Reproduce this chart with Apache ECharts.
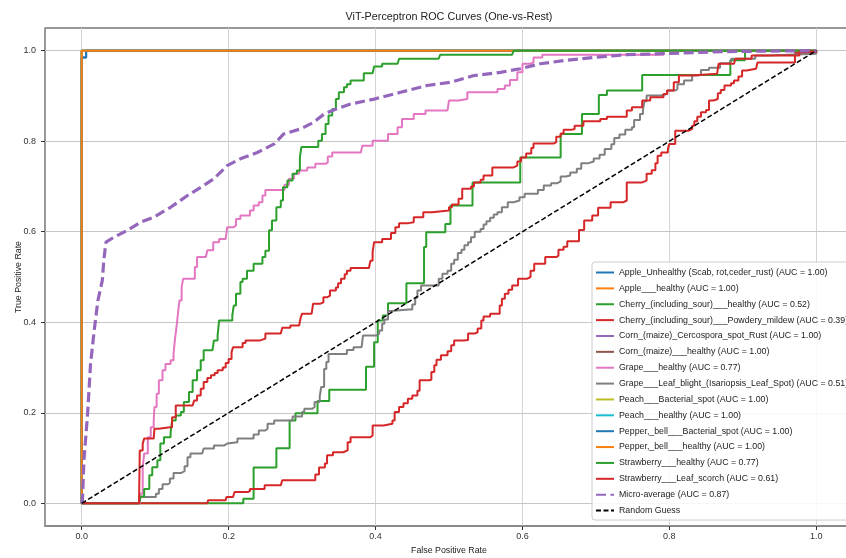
<!DOCTYPE html>
<html>
<head>
<meta charset="utf-8">
<script src="https://cdn.jsdelivr.net/npm/echarts@6/dist/echarts.min.js"></script>
<style>html,body{margin:0;padding:0;background:#fff}#c{width:846px;height:558px}</style>
</head>
<body>
<div id="c"></div>
<script>
const TITLE = 'ViT-Perceptron ROC Curves (One-vs-Rest)';
const X_TICKS = [0, 0.2, 0.4, 0.6, 0.8, 1.0];
const Y_TICKS = [0, 0.2, 0.4, 0.6, 0.8, 1.0];

const NAMES = [
  'Apple_Unhealthy (Scab, rot,ceder_rust) (AUC = 1.00)',
  'Apple___healthy (AUC = 1.00)',
  'Cherry_(including_sour)___healthy (AUC = 0.52)',
  'Cherry_(including_sour)___Powdery_mildew (AUC = 0.39)',
  'Corn_(maize)_Cercospora_spot_Rust (AUC = 1.00)',
  'Corn_(maize)___healthy (AUC = 1.00)',
  'Grape___healthy (AUC = 0.77)',
  'Grape___Leaf_blight_(Isariopsis_Leaf_Spot) (AUC = 0.51)',
  'Peach___Bacterial_spot (AUC = 1.00)',
  'Peach___healthy (AUC = 1.00)',
  'Pepper,_bell___Bacterial_spot (AUC = 1.00)',
  'Pepper,_bell___healthy (AUC = 1.00)',
  'Strawberry___healthy (AUC = 0.77)',
  'Strawberry___Leaf_scorch (AUC = 0.61)',
  'Micro-average (AUC = 0.87)',
  'Random Guess'
];
const COLORS = ['#1f77b4','#ff7f0e','#2ca02c','#d62728','#9467bd','#8c564b','#e377c2','#7f7f7f','#bcbd22','#17becf','#1f77b4','#ff7f0e','#2ca02c','#d62728','#9467bd','#000000'];

// [FPR, TPR] pairs
const appleUnhealthy = [[0,0],[0,0.985],[0.006,0.985],[0.006,1],[1,1]];
const appleHealthy = [[0,0],[0,1],[1,1]];
const cherryHealthy = [[0,0],[0.220,0],[0.220,0.010],[0.234,0.010],[0.234,0.079],[0.265,0.079],[0.265,0.122],[0.283,0.122],[0.283,0.183],[0.291,0.183],[0.291,0.199],[0.321,0.199],[0.321,0.226],[0.337,0.226],[0.337,0.251],[0.387,0.251],[0.387,0.302],[0.398,0.302],[0.398,0.356],[0.403,0.356],[0.403,0.404],[0.410,0.415],[0.417,0.415],[0.417,0.442],[0.442,0.442],[0.442,0.486],[0.466,0.486],[0.466,0.566],[0.469,0.566],[0.469,0.599],[0.495,0.599],[0.495,0.617],[0.502,0.617],[0.502,0.658],[0.532,0.658],[0.532,0.709],[0.597,0.709],[0.597,0.764],[0.652,0.764],[0.652,0.816],[0.681,0.816],[0.681,0.860],[0.704,0.860],[0.704,0.902],[0.715,0.902],[0.715,0.912],[0.763,0.912],[0.763,0.946],[0.883,0.946],[0.883,0.979],[0.903,0.979],[0.903,1],[1,1]];
const cherryMildew = [[0,0],[0.171,0],[0.172,0.007],[0.196,0.007],[0.197,0.014],[0.206,0.018],[0.208,0.025],[0.226,0.027],[0.229,0.032],[0.246,0.032],[0.249,0.040],[0.271,0.042],[0.273,0.051],[0.309,0.051],[0.318,0.064],[0.323,0.079],[0.331,0.088],[0.334,0.106],[0.342,0.113],[0.356,0.117],[0.362,0.135],[0.366,0.146],[0.393,0.150],[0.396,0.172],[0.411,0.176],[0.423,0.183],[0.426,0.202],[0.432,0.213],[0.438,0.221],[0.444,0.231],[0.450,0.238],[0.457,0.249],[0.460,0.272],[0.473,0.273],[0.476,0.290],[0.480,0.305],[0.483,0.317],[0.489,0.327],[0.498,0.336],[0.503,0.349],[0.507,0.360],[0.520,0.361],[0.526,0.375],[0.535,0.378],[0.539,0.386],[0.544,0.404],[0.547,0.413],[0.556,0.419],[0.565,0.419],[0.569,0.437],[0.572,0.452],[0.576,0.463],[0.581,0.472],[0.586,0.481],[0.590,0.481],[0.594,0.496],[0.606,0.500],[0.611,0.514],[0.616,0.529],[0.631,0.544],[0.646,0.547],[0.649,0.560],[0.656,0.567],[0.661,0.579],[0.672,0.579],[0.677,0.604],[0.684,0.625],[0.695,0.636],[0.703,0.653],[0.720,0.665],[0.737,0.669],[0.742,0.709],[0.763,0.713],[0.769,0.728],[0.776,0.736],[0.781,0.751],[0.784,0.768],[0.789,0.775],[0.798,0.783],[0.800,0.794],[0.808,0.823],[0.826,0.827],[0.831,0.834],[0.834,0.844],[0.838,0.854],[0.843,0.864],[0.850,0.869],[0.854,0.890],[0.860,0.893],[0.866,0.906],[0.870,0.913],[0.875,0.923],[0.884,0.928],[0.888,0.934],[0.894,0.943],[0.899,0.956],[0.905,0.960],[0.918,0.960],[0.920,0.974],[0.971,0.974],[0.971,0.995],[1,1]];
const cornCercospora = [[0,0],[0,1],[1,1]];
const cornHealthy = [[0,0],[0,1],[1,1]];
const grapeHealthy = [[0,0],[0.079,0],[0.079,0.021],[0.083,0.080],[0.085,0.110],[0.090,0.146],[0.094,0.168],[0.098,0.183],[0.099,0.213],[0.102,0.242],[0.105,0.272],[0.110,0.294],[0.114,0.308],[0.121,0.316],[0.125,0.330],[0.127,0.364],[0.129,0.389],[0.131,0.419],[0.133,0.448],[0.136,0.477],[0.138,0.496],[0.151,0.496],[0.154,0.522],[0.157,0.544],[0.169,0.544],[0.171,0.559],[0.179,0.577],[0.187,0.584],[0.196,0.584],[0.198,0.610],[0.207,0.614],[0.210,0.628],[0.216,0.636],[0.225,0.636],[0.229,0.647],[0.234,0.658],[0.241,0.665],[0.246,0.680],[0.250,0.692],[0.273,0.692],[0.276,0.704],[0.282,0.717],[0.289,0.728],[0.296,0.735],[0.307,0.742],[0.318,0.750],[0.332,0.753],[0.335,0.766],[0.341,0.775],[0.380,0.775],[0.382,0.790],[0.396,0.801],[0.414,0.801],[0.417,0.816],[0.430,0.831],[0.436,0.849],[0.452,0.860],[0.468,0.868],[0.498,0.868],[0.500,0.890],[0.513,0.893],[0.525,0.908],[0.563,0.908],[0.566,0.915],[0.576,0.923],[0.583,0.935],[0.593,0.952],[0.600,0.971],[0.611,0.974],[0.615,0.985],[0.627,0.991],[0.792,0.991],[0.792,1],[1,1]];
const grapeBlight = [[0,0],[0.078,0],[0.080,0.014],[0.098,0.014],[0.101,0.021],[0.105,0.032],[0.110,0.042],[0.117,0.045],[0.120,0.055],[0.125,0.067],[0.135,0.071],[0.140,0.082],[0.144,0.102],[0.148,0.110],[0.164,0.110],[0.166,0.121],[0.180,0.128],[0.194,0.132],[0.198,0.135],[0.212,0.143],[0.234,0.152],[0.241,0.161],[0.250,0.165],[0.253,0.176],[0.262,0.183],[0.283,0.183],[0.287,0.192],[0.300,0.202],[0.303,0.209],[0.314,0.213],[0.317,0.224],[0.324,0.236],[0.326,0.257],[0.330,0.297],[0.333,0.312],[0.336,0.330],[0.352,0.330],[0.361,0.339],[0.370,0.345],[0.381,0.349],[0.383,0.371],[0.401,0.375],[0.405,0.382],[0.409,0.397],[0.412,0.406],[0.417,0.425],[0.421,0.428],[0.445,0.428],[0.450,0.439],[0.454,0.454],[0.457,0.470],[0.462,0.481],[0.482,0.481],[0.486,0.496],[0.491,0.507],[0.498,0.514],[0.503,0.529],[0.507,0.538],[0.512,0.553],[0.517,0.560],[0.521,0.570],[0.526,0.577],[0.530,0.588],[0.535,0.600],[0.543,0.606],[0.547,0.616],[0.551,0.623],[0.556,0.631],[0.561,0.638],[0.566,0.643],[0.572,0.654],[0.580,0.665],[0.588,0.669],[0.596,0.676],[0.603,0.684],[0.615,0.684],[0.621,0.692],[0.629,0.702],[0.639,0.707],[0.647,0.711],[0.652,0.722],[0.659,0.724],[0.665,0.731],[0.674,0.739],[0.680,0.751],[0.689,0.755],[0.697,0.762],[0.705,0.770],[0.712,0.783],[0.721,0.793],[0.725,0.807],[0.732,0.815],[0.740,0.825],[0.749,0.831],[0.752,0.847],[0.760,0.860],[0.764,0.869],[0.766,0.888],[0.769,0.901],[0.788,0.904],[0.797,0.912],[0.808,0.915],[0.811,0.926],[0.820,0.934],[0.831,0.945],[0.838,0.946],[0.843,0.957],[0.854,0.962],[0.869,0.972],[0.881,0.976],[0.884,0.982],[0.912,0.982],[0.917,0.989],[0.933,0.993],[1,1]];
const peachBacterial = [[0,0],[0,1],[1,1]];
const peachHealthy = [[0,0],[0,1],[1,1]];
const pepperBacterial = [[0,0],[0,0.985],[0.006,0.985],[0.006,1],[1,1]];
const pepperHealthy = [[0,0],[0,1],[1,1]];
const strawberryHealthy = [[0,0],[0.078,0],[0.080,0.015],[0.085,0.032],[0.092,0.062],[0.096,0.080],[0.103,0.095],[0.107,0.132],[0.112,0.146],[0.121,0.157],[0.123,0.183],[0.128,0.194],[0.135,0.202],[0.139,0.224],[0.146,0.246],[0.151,0.272],[0.157,0.294],[0.162,0.316],[0.166,0.338],[0.178,0.341],[0.180,0.360],[0.185,0.371],[0.187,0.404],[0.200,0.404],[0.205,0.415],[0.207,0.437],[0.210,0.463],[0.216,0.489],[0.219,0.496],[0.225,0.514],[0.234,0.529],[0.246,0.544],[0.250,0.558],[0.255,0.603],[0.259,0.625],[0.265,0.654],[0.271,0.669],[0.274,0.698],[0.280,0.713],[0.287,0.728],[0.293,0.735],[0.297,0.764],[0.299,0.787],[0.318,0.787],[0.322,0.801],[0.327,0.816],[0.332,0.838],[0.336,0.857],[0.341,0.871],[0.346,0.893],[0.350,0.908],[0.357,0.919],[0.361,0.926],[0.366,0.934],[0.380,0.934],[0.384,0.950],[0.396,0.950],[0.398,0.965],[0.409,0.971],[0.430,0.971],[0.432,0.982],[0.486,0.982],[0.488,0.991],[0.586,0.991],[0.588,1],[1,1]];
const strawberryScorch = [[0,0],[0.078,0],[0.079,0.117],[0.083,0.132],[0.085,0.143],[0.098,0.143],[0.099,0.165],[0.105,0.168],[0.120,0.168],[0.123,0.190],[0.128,0.216],[0.151,0.216],[0.153,0.227],[0.157,0.238],[0.162,0.253],[0.166,0.268],[0.171,0.277],[0.176,0.283],[0.181,0.288],[0.185,0.294],[0.192,0.300],[0.196,0.310],[0.200,0.319],[0.204,0.334],[0.206,0.345],[0.219,0.354],[0.223,0.360],[0.243,0.364],[0.250,0.375],[0.271,0.375],[0.273,0.388],[0.284,0.393],[0.296,0.397],[0.298,0.410],[0.300,0.419],[0.313,0.422],[0.315,0.441],[0.325,0.444],[0.329,0.455],[0.334,0.459],[0.338,0.470],[0.346,0.477],[0.349,0.486],[0.353,0.496],[0.358,0.506],[0.361,0.514],[0.366,0.520],[0.391,0.520],[0.393,0.536],[0.396,0.555],[0.398,0.577],[0.409,0.584],[0.418,0.584],[0.421,0.597],[0.427,0.610],[0.432,0.619],[0.445,0.621],[0.452,0.632],[0.465,0.643],[0.477,0.647],[0.500,0.654],[0.504,0.660],[0.513,0.673],[0.518,0.695],[0.530,0.700],[0.534,0.709],[0.543,0.715],[0.547,0.724],[0.559,0.742],[0.588,0.746],[0.593,0.755],[0.598,0.764],[0.605,0.773],[0.612,0.785],[0.615,0.795],[0.643,0.798],[0.646,0.810],[0.652,0.817],[0.656,0.825],[0.666,0.827],[0.671,0.834],[0.683,0.844],[0.706,0.849],[0.715,0.854],[0.742,0.868],[0.749,0.875],[0.763,0.890],[0.774,0.897],[0.792,0.904],[0.797,0.912],[0.806,0.930],[0.813,0.945],[0.829,0.949],[0.865,0.949],[0.867,0.971],[0.888,0.971],[0.890,0.982],[0.912,0.982],[0.912,0.989],[0.977,0.989],[0.977,0.998],[1,1]];
const microAverage = [[0,0],[0.001,0.007],[0.003,0.095],[0.008,0.198],[0.012,0.308],[0.017,0.382],[0.022,0.448],[0.028,0.492],[0.030,0.536],[0.033,0.577],[0.044,0.588],[0.062,0.603],[0.080,0.621],[0.098,0.632],[0.121,0.654],[0.144,0.680],[0.162,0.698],[0.180,0.717],[0.198,0.746],[0.216,0.761],[0.239,0.775],[0.262,0.794],[0.275,0.816],[0.298,0.827],[0.316,0.842],[0.330,0.860],[0.343,0.869],[0.366,0.882],[0.398,0.893],[0.434,0.908],[0.470,0.923],[0.502,0.930],[0.534,0.945],[0.570,0.952],[0.597,0.960],[0.624,0.971],[0.661,0.979],[0.697,0.985],[0.742,0.991],[0.801,0.994],[0.878,0.998],[1,1]];
const randomGuess = [[0,0],[1,1]];

const CURVES = [appleUnhealthy, appleHealthy, cherryHealthy, cherryMildew, cornCercospora, cornHealthy, grapeHealthy, grapeBlight, peachBacterial, peachHealthy, pepperBacterial, pepperHealthy, strawberryHealthy, strawberryScorch, microAverage, randomGuess];

const FONT = "'Liberation Sans', Arial, sans-serif";

const series = CURVES.map((d, i) => {
  const isMicro = i === 14, isRand = i === 15;
  const s = {
    type: 'line', name: NAMES[i], data: d, symbol: 'none', showSymbol: false, z: 2,
    step: (isMicro || isRand) ? false : 'end',
    color: COLORS[i],
    lineStyle: { color: COLORS[i], width: isMicro ? 3.2 : (isRand ? 1.5 : 2), type: isMicro ? [10, 4.5] : (isRand ? [5, 2.5] : 'solid') },
    emphasis: { disabled: true }, silent: true, animation: false
  };
  if (i === 0) {
    s.markLine = {
      silent: true, symbol: 'none', z: 1, animation: false,
      label: { show: false },
      lineStyle: { color: '#d4d4d4', width: 1, type: 'solid' },
      emphasis: { disabled: true },
      data: X_TICKS.map(v => ({ xAxis: v })).concat(Y_TICKS.map(v => ({ yAxis: v, lineStyle: { color: '#c6c6c6' } })))
    };
  }
  return s;
});

const chart = echarts.init(document.getElementById('c'), null, { renderer: 'canvas' });
chart.setOption({
  animation: false,
  textStyle: { fontFamily: FONT },
  grid: { left: 45, top: 28, right: -7, bottom: 32, outerBoundsMode: 'none', containLabel: false, show: true, borderColor: '#333', borderWidth: 1 },
  graphic: [{ type: 'text', x: 449, y: 17, style: { text: TITLE, fill: '#222', font: "10.8px " + FONT, textAlign: 'center', textVerticalAlign: 'middle' } }],
  xAxis: {
    type: 'value', min: -0.05, max: 1.05,
    name: 'False Positive Rate', nameLocation: 'middle', nameGap: 20,
    nameTextStyle: { color: '#222', fontSize: 8.8, fontFamily: FONT },
    axisLine: { show: true, onZero: false, lineStyle: { color: '#8a8a8a', width: 2 } },
    axisTick: { show: true, customValues: X_TICKS, length: 4, lineStyle: { color: '#333' } },
    axisLabel: { customValues: X_TICKS, formatter: v => v.toFixed(1), color: '#333', fontSize: 9, margin: 6 },
    splitLine: { show: false }
  },
  yAxis: {
    type: 'value', min: -0.05, max: 1.05,
    name: 'True Positive Rate', nameLocation: 'middle', nameGap: 22, nameRotate: 90, nameMoveOverlap: false,
    nameTextStyle: { color: '#222', fontSize: 8.8, fontFamily: FONT },
    axisLine: { show: true, onZero: false, lineStyle: { color: '#9a9a9a', width: 1.5 } },
    axisTick: { show: true, customValues: Y_TICKS, length: 4, lineStyle: { color: '#333' } },
    axisLabel: { customValues: Y_TICKS, formatter: v => v.toFixed(1), color: '#333', fontSize: 9, margin: 9 },
    splitLine: { show: false }
  },
  legend: {
    orient: 'vertical', left: 592, top: 262,
    itemWidth: 18, itemHeight: 10, itemGap: 5.87,
    padding: [5.5, 6, 4.5, 3],
    itemStyle: { opacity: 0 },
    backgroundColor: 'rgba(255,255,255,0.85)', borderColor: '#cccccc', borderWidth: 1, borderRadius: 3,
    textStyle: { fontSize: 8.8, color: '#222', lineHeight: 10, fontFamily: FONT },
    selectedMode: false,
    data: NAMES
  },
  series: series
});
</script>
</body>
</html>
